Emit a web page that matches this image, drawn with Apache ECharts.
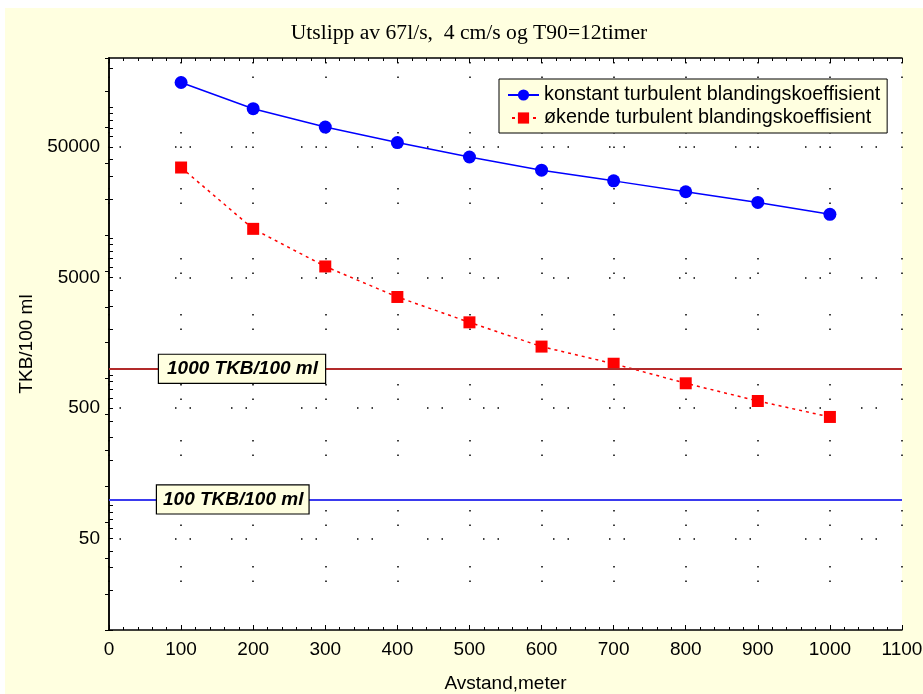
<!DOCTYPE html>
<html><head><meta charset="utf-8">
<script src="https://cdn.jsdelivr.net/npm/echarts@6/dist/echarts.min.js"></script>
<style>
html,body{margin:0;padding:0;background:#fff;}
#c{position:absolute;left:5px;top:8px;width:918px;height:686px;}
</style></head><body><div id="c"></div>
<script>
// Data
const distances = [100, 200, 300, 400, 500, 600, 700, 800, 900, 1000];
const konstant = [155800, 98200, 71000, 54000, 41900, 33200, 27500, 22700, 18800, 15250];
const okende = [34800, 11800, 6080, 3550, 2270, 1480, 1094, 775, 567, 428];
const yTickLabels = [50, 500, 5000, 50000];
const limitValues = [1000, 100];
const limitLabels = ['1000 TKB/100 ml', '100 TKB/100 ml'];
const seriesNames = ['konstant turbulent blandingskoeffisient', 'økende turbulent blandingskoeffisient'];

const yMin = 10, yMax = 240000;
const yMinorTicks = [];
for (let e = 1; e <= 5; e++) {
  for (let m = 1; m <= 9; m++) {
    const v = m * Math.pow(10, e);
    if (v >= yMin && v <= yMax) yMinorTicks.push(v);
  }
}

const FONT = 'Liberation Sans';
const gridDash = [1.5, 13, 1.5, 40, 1.5, 13, 1.5, 54];

const labelBox = {
  show: true,
  position: 'insideStart',
  fontFamily: FONT, fontSize: 19, fontWeight: 'bold', fontStyle: 'italic',
  color: '#000', backgroundColor: '#ffffe0', borderColor: '#000', borderWidth: 1.2,
  padding: [5, 7, 4, 8]
};

const chart = echarts.init(document.getElementById('c'), null, {renderer: 'canvas'});
chart.setOption({
  animation: false,
  backgroundColor: '#ffffe0',
  title: {
    text: 'Utslipp av 67l/s,  4 cm/s og T90=12timer',
    left: 464, top: 14, padding: 0, textAlign: 'center',
    textStyle: {fontFamily: 'Liberation Serif', fontSize: 21.6, fontWeight: 'normal', color: '#000'}
  },
  grid: {left: 104, top: 50, right: 21, bottom: 64, show: true, backgroundColor: '#fff', borderWidth: 0,
    outerBoundsMode: 'none', containLabel: false},
  legend: {
    orient: 'vertical', left: 494, top: 71,
    itemWidth: 31, itemHeight: 14, itemGap: 1,
    padding: [5, 7, 4, 8],
    backgroundColor: '#ffffe0', borderColor: '#000', borderWidth: 1,
    textStyle: {fontFamily: FONT, fontSize: 19.8, color: '#000', lineHeight: 22},
    data: seriesNames
  },
  xAxis: [{
    type: 'value', min: 0, max: 1100, interval: 100, position: 'bottom',
    axisLine: {lineStyle: {color: '#000', width: 1.5}},
    axisTick: {inside: true, length: 5, lineStyle: {color: '#000'}},
    minorTick: {show: true, splitNumber: 5, length: 3, lineStyle: {color: '#000'}},
    axisLabel: {fontFamily: FONT, fontSize: 19, color: '#000', margin: 10,
      formatter: v => String(Math.round(v))},
    splitLine: {show: true, lineStyle: {color: '#000', width: 1.5, type: gridDash, dashOffset: 52}},
    name: 'Avstand,meter', nameLocation: 'middle', nameGap: 44,
    nameTextStyle: {fontFamily: FONT, fontSize: 19, color: '#000'}
  }, {
    type: 'value', min: 0, max: 1100, interval: 100, position: 'top',
    axisLine: {lineStyle: {color: '#000', width: 1.5}},
    axisTick: {inside: true, length: 5, lineStyle: {color: '#000'}},
    minorTick: {show: true, splitNumber: 5, length: 3, lineStyle: {color: '#000'}},
    axisLabel: {show: false}, splitLine: {show: false}
  }],
  yAxis: [{
    type: 'log', logBase: 10, min: yMin, max: yMax, position: 'left',
    axisLine: {lineStyle: {color: '#000', width: 1.5}},
    axisTick: {inside: true, length: 4, lineStyle: {color: '#000'}, customValues: yMinorTicks},
    axisLabel: {customValues: yTickLabels, fontFamily: FONT, fontSize: 19, color: '#000', margin: 9,
      formatter: v => String(Math.round(v))},
    splitLine: {show: false},
    name: 'TKB/100 ml', nameLocation: 'middle', nameGap: 73, nameRotate: 90,
    nameTextStyle: {fontFamily: FONT, fontSize: 19, color: '#000'}
  }, {
    type: 'value', min: 0, max: 15.93, interval: 1, position: 'right',
    axisLine: {lineStyle: {color: '#000', width: 1.5}},
    axisTick: {inside: true, length: 4, lineStyle: {color: '#000'}},
    axisLabel: {show: false}, splitLine: {show: false}
  }],
  series: [{
    name: seriesNames[0], type: 'line', xAxisIndex: 0, yAxisIndex: 0,
    data: distances.map((d, i) => [d, konstant[i]]),
    symbol: 'circle', symbolSize: 13,
    lineStyle: {color: '#0000ff', width: 1.5},
    itemStyle: {color: '#0000ff'},
    z: 5,
    markLine: {
      silent: true, symbol: 'none', animation: false,
      data: yTickLabels.map(v => ({
        yAxis: v, label: {show: false},
        lineStyle: {color: '#000', width: 1.5, type: gridDash, dashOffset: 60}
      })).concat([{
        yAxis: limitValues[1],
        lineStyle: {color: '#3a3aee', width: 2, type: 'solid'},
        label: Object.assign({}, labelBox, {formatter: limitLabels[1], distance: [48, 0], padding: [5, 5, 4, 6]})
      }])
    }
  }, {
    name: seriesNames[1], type: 'line', xAxisIndex: 0, yAxisIndex: 0,
    data: distances.map((d, i) => [d, okende[i]]),
    symbol: 'rect', symbolSize: 12,
    lineStyle: {color: '#ff0000', width: 1.5, type: [3, 4]},
    itemStyle: {color: '#ff0000'},
    z: 4,
    markLine: {
      silent: true, symbol: 'none', animation: false,
      data: [{
        yAxis: limitValues[0],
        lineStyle: {color: '#b22a2a', width: 2, type: 'solid'},
        label: Object.assign({}, labelBox, {formatter: limitLabels[0], distance: [50, 0]})
      }]
    }
  }]
});
</script></body></html>
